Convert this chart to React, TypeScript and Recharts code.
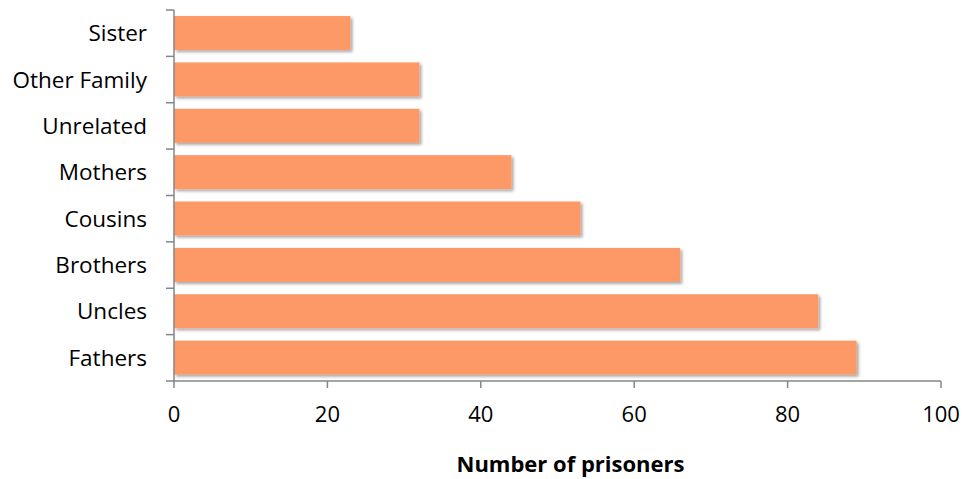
import React from 'react';
import { BarChart, Bar, XAxis, YAxis } from 'recharts';

// relation of family member to the prisoner, listed top to bottom
const relations: string[] = [
  'Sister', 'Other Family', 'Unrelated', 'Mothers',
  'Cousins', 'Brothers', 'Uncles', 'Fathers',
];
const prisoners: number[] = [23, 32, 32, 44, 53, 66, 84, 89];
const countTicks: number[] = [0, 20, 40, 60, 80, 100];

const rows = relations.map((name, i) => ({ name, value: prisoners[i] }));

const FONT = '"Open Sans", sans-serif';
const AXIS = '#868686';
const BAR = '#FD9966';
const LABEL_GAP = 27; // label end to axis line
const MARK = 8; // outward tick length on the category axis

const ShadowBar = (props: any) => {
  const { x, y, width, height } = props;
  if (!width || width <= 0) return null;
  return <rect x={x} y={y} width={width} height={height} fill={BAR} filter="url(#barShadow)" />;
};

// category label plus tick marks on the band edges (between categories)
const NameTick = (props: any) => {
  const { x, y, payload, index, visibleTicksCount } = props;
  const half = payload.offset ?? 0;
  const ax = x + LABEL_GAP;
  return (
    <g>
      <text x={x} y={y} dy="0.355em" textAnchor="end" fill="#000" fontSize={22.5} fontFamily={FONT}>
        {payload.value}
      </text>
      <line x1={ax - MARK} x2={ax} y1={y - half} y2={y - half} stroke={AXIS} strokeWidth={1.5} />
      {index === visibleTicksCount - 1 && (
        <line x1={ax - MARK} x2={ax} y1={y + half} y2={y + half} stroke={AXIS} strokeWidth={1.5} />
      )}
    </g>
  );
};

export default function App() {
  return (
    <div style={{ position: 'absolute', left: 0, top: 0, background: '#fff' }}>
      <BarChart
        width={963}
        height={479}
        data={rows}
        layout="vertical"
        margin={{ top: 10, right: 22, bottom: 0, left: 0 }}
        barCategoryGap="13%"
      >
        <defs>
          <filter id="barShadow" x="-5%" y="-20%" width="115%" height="160%">
            <feDropShadow dx="2" dy="2" stdDeviation="1.6" floodColor="#000" floodOpacity="0.35" />
          </filter>
        </defs>
        <YAxis
          type="category"
          dataKey="name"
          width={174}
          interval={0}
          stroke={AXIS}
          strokeWidth={1.5}
          tickLine={false}
          tickSize={0}
          tickMargin={LABEL_GAP}
          tick={NameTick}
        />
        <XAxis
          type="number"
          domain={[0, 100]}
          ticks={countTicks}
          height={98}
          tickSize={7}
          tickMargin={18}
          stroke={AXIS}
          strokeWidth={1.5}
          tick={{ fill: '#000', fontSize: 22, fontFamily: FONT }}
          label={{
            value: 'Number of prisoners',
            position: 'insideBottom',
            offset: 7,
            dx: 13,
            style: { fill: '#000', fontSize: 22, fontWeight: 700, fontFamily: FONT },
          }}
        />
        <Bar dataKey="value" shape={ShadowBar} isAnimationActive={false} />
      </BarChart>
    </div>
  );
}
